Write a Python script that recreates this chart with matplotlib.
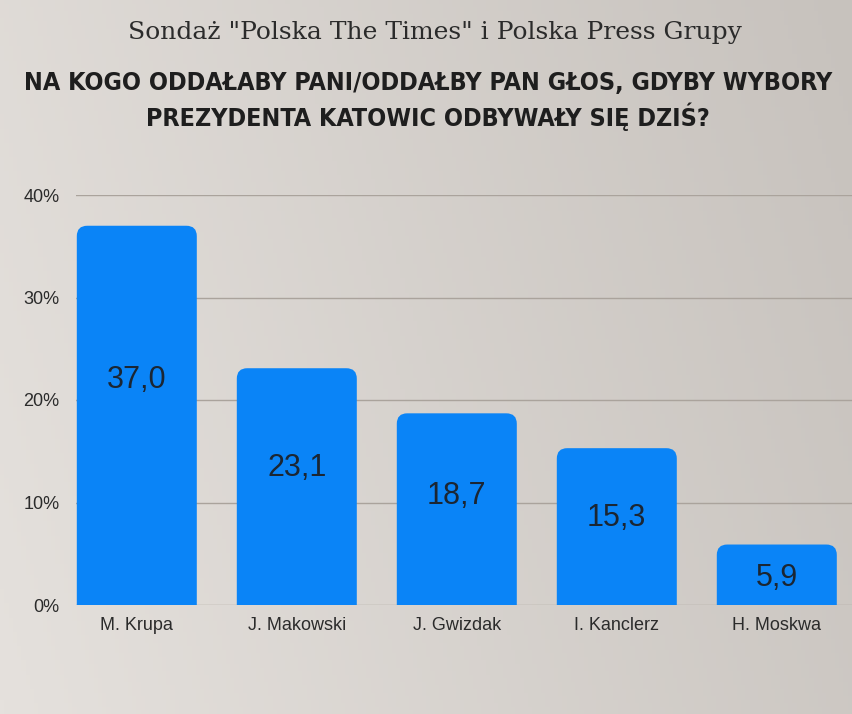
import numpy as np
import matplotlib.pyplot as plt
from matplotlib.patches import FancyBboxPatch
from matplotlib.colors import LinearSegmentedColormap

# data
candidates = ["M. Krupa", "J. Makowski", "J. Gwizdak", "I. Kanclerz", "H. Moskwa"]
support = [37.0, 23.1, 18.7, 15.3, 5.9]
y_ticks = [0, 10, 20, 30, 40]
y_tick_labels = ["0%", "10%", "20%", "30%", "40%"]

subtitle = 'Sondaż "Polska The Times" i Polska Press Grupy'
title = ("NA KOGO ODDAŁABY PANI/ODDAŁBY PAN GŁOS, GDYBY WYBORY\n"
         "PREZYDENTA KATOWIC ODBYWAŁY SIĘ DZIŚ?")

bar_color = "#0a84f7"
text_color = "#2b2b2b"

fig = plt.figure(figsize=(8.52, 7.14), dpi=100)

# paper-like background: light on the left, a bit darker to the right
paper = LinearSegmentedColormap.from_list("paper", ["#e5e1dd", "#c7c2bd"])
bg = fig.add_axes([0, 0, 1, 1])
gx = np.linspace(0, 1, 200)
GX, GY = np.meshgrid(gx, gx)
shade = 0.8 * GX + 0.2 * GY
bg.imshow(shade, cmap=paper, vmin=0, vmax=1, aspect="auto",
          extent=[0, 1, 0, 1], origin="lower")
bg.axis("off")

ax = fig.add_axes([76 / 852, 109 / 714, 776 / 852, 410 / 714])
ax.patch.set_alpha(0)

x = np.arange(len(candidates))
width = 0.75
bars = ax.bar(x, support, width=width, color="none")

# redraw bars with rounded top corners (bottom pushed below axis and clipped)
for rect in bars:
    bx, bw, bh = rect.get_x(), rect.get_width(), rect.get_height()
    patch = FancyBboxPatch((bx, -3), bw, bh + 3,
                           boxstyle="round,pad=0,rounding_size=0.065",
                           mutation_aspect=15.6,
                           facecolor=bar_color, edgecolor="none", zorder=3)
    ax.add_patch(patch)

for xi, v in zip(x, support):
    ax.text(xi, 0.62 * v - 1.0, f"{v:.1f}".replace(".", ","),
            ha="center", va="center", fontsize=22,
            family="Liberation Sans", color="#1b2633", zorder=4)

ax.set_xlim(-0.38, 4.47)
ax.set_ylim(0, 40)
ax.set_yticks(y_ticks)
ax.set_yticklabels(y_tick_labels)
ax.set_xticks(x)
ax.set_xticklabels(candidates)
ax.tick_params(length=0, labelsize=13, colors=text_color)
ax.tick_params(axis="y", pad=12)
ax.tick_params(axis="x", pad=9)
for lab in ax.get_xticklabels() + ax.get_yticklabels():
    lab.set_family("Liberation Sans")
ax.grid(axis="y", color="#aaa39c", linewidth=1)
ax.set_axisbelow(True)
for s in ax.spines.values():
    s.set_visible(False)

fig.text(0.51, 1 - 32 / 714, subtitle, ha="center", va="center",
         fontsize=18, family="DejaVu Serif", color=text_color)
fig.text(0.502, 1 - 101 / 714, title, ha="center", va="center",
         fontsize=18, family="DejaVu Sans", fontstretch="condensed",
         fontweight="bold", color="#1e1e1e", linespacing=1.35)

fig.savefig("out.png", dpi=100)
